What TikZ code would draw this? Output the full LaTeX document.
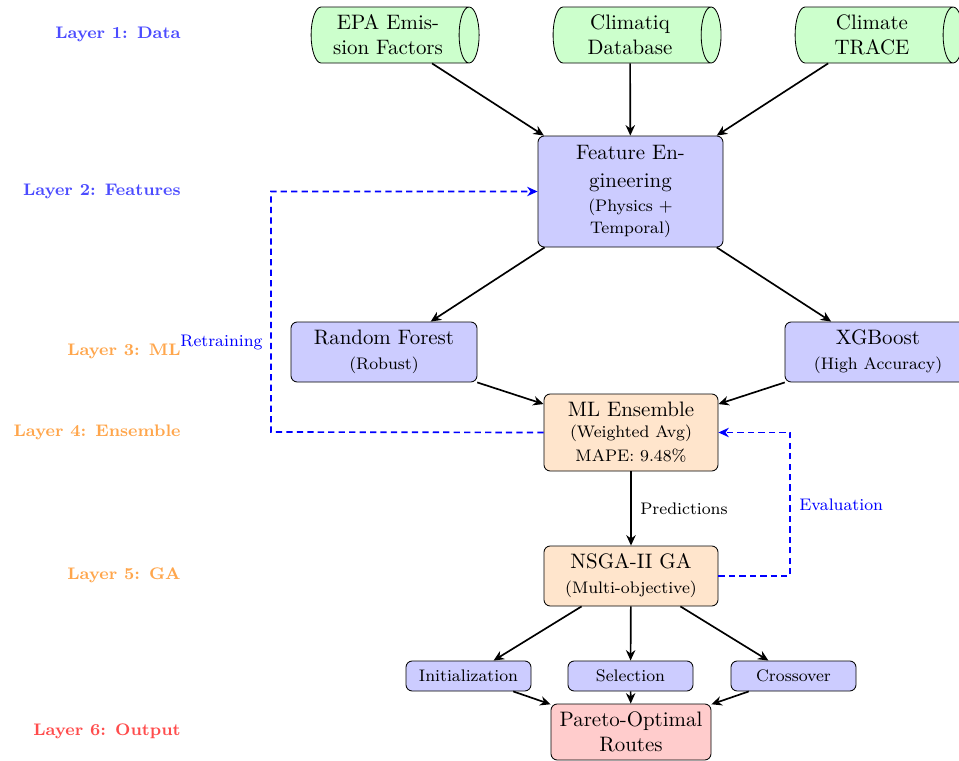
\documentclass[tikz,border=0pt]{standalone}
\usetikzlibrary{shapes.geometric,arrows.meta}
\newdimen\pxu \pxu=0.4782pt
\begin{document}
\begin{tikzpicture}[x=0.4782pt,y=-0.4782pt,
  box/.style={draw, rounded corners=3pt, fill=blue!20, align=center, inner sep=1pt},
  ga/.style={box, fill=orange!20},
  db/.style={draw, cylinder, shape aspect=0.45, fill=green!20, align=center,
    minimum height=168*\pxu, minimum width=56*\pxu, inner sep=1pt},
  arr/.style={thick, -{Stealth[length=5pt,width=4.5pt]}},
  fb/.style={blue, thick, dash pattern=on 3pt off 2pt, -{Stealth[length=5pt,width=4.5pt]}},
  lay/.style={font=\footnotesize\bfseries, anchor=east},
  lbl/.style={font=\footnotesize}]
\useasboundingbox (0,0) rectangle (959,761);
% layer labels
\node[lay, text=blue!70] (l1) at (188,34) {Layer 1: Data};
\node[lay, text=blue!70] (l2) at (188,191) {Layer 2: Features};
\node[lay, text=orange!70] (l3) at (188,351) {Layer 3: ML};
\node[lay, text=orange!70] (l4) at (188,432) {Layer 4: Ensemble};
\node[lay, text=orange!70] (l5) at (188,575) {Layer 5: GA};
\node[lay, text=red!70] (l6) at (188,731) {Layer 6: Output};
% data sources
\node[db] (epa) at (388,35) {EPA Emis-\\sion Factors};
\node[db] (clim) at (630,35) {Climatiq\\Database};
\node[db] (trace) at (872,35) {Climate\\TRACE};
% features
\node[box, minimum width=185*\pxu, minimum height=111*\pxu] (feat) at (630.5,191.5)
  {Feature En-\\[1pt]gineering\\[-0.5pt]{\footnotesize (Physics +}\\[-1.5pt]{\footnotesize Temporal)}};
% models
\node[box, minimum width=186*\pxu, minimum height=60*\pxu] (rf) at (384,352)
  {Random Forest\\{\footnotesize (Robust)}};
\node[box, minimum width=186*\pxu, minimum height=60*\pxu] (xgb) at (878,352)
  {XGBoost\\{\footnotesize (High Accuracy)}};
% ensemble
\node[ga, minimum width=174*\pxu, minimum height=77*\pxu] (ens) at (631,432.5)
  {ML Ensemble\\[-2pt]{\footnotesize (Weighted Avg)}\\[-0.5pt]{\footnotesize MAPE: 9.48\%}};
% GA
\node[ga, minimum width=174*\pxu, minimum height=60*\pxu] (nsga) at (631,576)
  {NSGA-II GA\\{\footnotesize (Multi-objective)}};
\node[box, minimum width=125*\pxu, minimum height=30*\pxu, font=\footnotesize] (init) at (468.5,676) {Initialization};
\node[box, minimum width=125*\pxu, minimum height=30*\pxu, font=\footnotesize] (sel) at (630.5,676) {Selection};
\node[box, minimum width=125*\pxu, minimum height=30*\pxu, font=\footnotesize] (cross) at (793.5,676) {Crossover};
% output
\node[box, fill=red!20, minimum width=160*\pxu, minimum height=56*\pxu] (par) at (631,732)
  {Pareto-Optimal\\Routes};
% arrows
\draw[arr] (epa) -- (feat);
\draw[arr] (clim) -- (feat);
\draw[arr] (trace) -- (feat);
\draw[arr] (feat) -- (rf);
\draw[arr] (feat) -- (xgb);
\draw[arr] (rf) -- (ens);
\draw[arr] (xgb) -- (ens);
\draw[arr] (ens) -- (nsga);
\node[lbl, anchor=west] (pred) at (633,509) {Predictions};
\draw[arr] (nsga) -- (init);
\draw[arr] (nsga) -- (sel);
\draw[arr] (nsga) -- (cross);
\draw[arr] (init) -- (par);
\draw[arr] (sel) -- (par);
\draw[arr] (cross) -- (par);
% feedback
\coordinate (rl) at (271,432);
\draw[fb] (ens.west) -- (rl) |- (feat.west);
\node[lbl, text=blue, anchor=east] (retr) at (270,342) {Retraining};
\coordinate (er) at (790,576);
\draw[fb] (nsga.east) -- (er) |- (ens.east);
\node[lbl, text=blue, anchor=west] (eval) at (792,505) {Evaluation};
\end{tikzpicture}
\end{document}
